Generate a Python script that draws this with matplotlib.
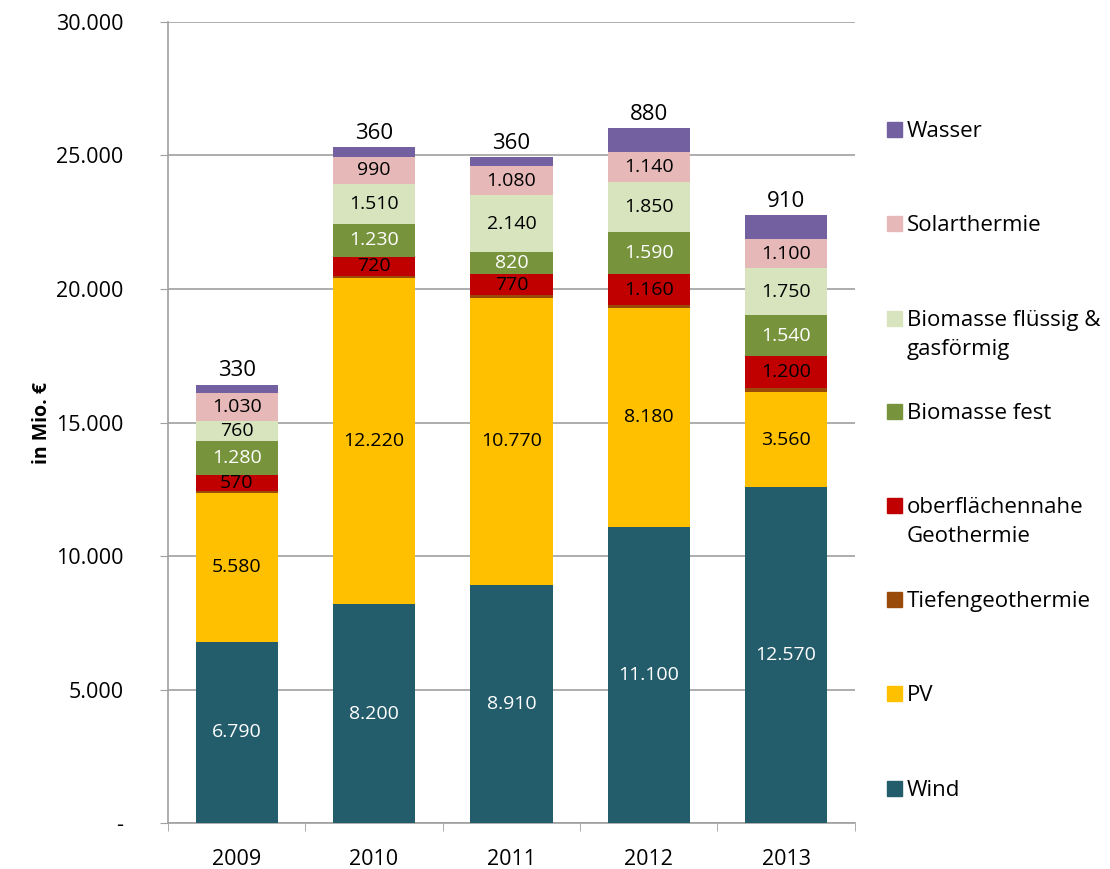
import numpy as np
import matplotlib.pyplot as plt
from matplotlib.patches import Rectangle

plt.rcParams['font.family'] = ['Open Sans', 'DejaVu Sans']

years = ['2009', '2010', '2011', '2012', '2013']
series = ['Wind', 'PV', 'Tiefengeothermie', 'oberflächennahe\nGeothermie',
          'Biomasse fest', 'Biomasse flüssig &\ngasförmig', 'Solarthermie', 'Wasser']
wind = [6790, 8200, 8910, 11100, 12570]
pv = [5580, 12220, 10770, 8180, 3560]
tief = [80, 70, 100, 120, 150]
geo = [570, 720, 770, 1160, 1200]
bio_fest = [1280, 1230, 820, 1590, 1540]
bio_fl = [760, 1510, 2140, 1850, 1750]
solar = [1030, 990, 1080, 1140, 1100]
wasser = [330, 360, 360, 880, 910]

values = [wind, pv, tief, geo, bio_fest, bio_fl, solar, wasser]
colors = ['#235C6A', '#FFC000', '#9A4A08', '#C00000', '#77933C', '#D7E4BD', '#E6B9B8', '#7360A0']
label_colors = ['white', 'black', None, 'black', 'white', 'black', 'black', None]

def fmt(v):
    return f'{v:,.0f}'.replace(',', '.')

fig = plt.figure(figsize=(11.1, 8.69), dpi=100)
ax = fig.add_axes([0.1514, 0.0529, 0.770 - 0.1514, 0.9747 - 0.0529])

x = np.arange(len(years))
bottom = np.zeros(len(years))
for vals, col, lc in zip(values, colors, label_colors):
    vals = np.array(vals, dtype=float)
    ax.bar(x, vals, 0.6, bottom=bottom, color=col, zorder=3)
    if lc is not None:
        for xi, b, v in zip(x, bottom, vals):
            ax.text(xi, b + v / 2, fmt(v), ha='center', va='center',
                    fontsize=14, color=lc, zorder=4)
    bottom += vals

# Wasser labels above the bars
for xi, b, v in zip(x, bottom, wasser):
    ax.text(xi, b + 120, fmt(v), ha='center', va='bottom', fontsize=16, zorder=4)

ax.set_xlim(-0.5, len(years) - 0.5)
ax.set_ylim(0, 30000)
ax.set_yticks(np.arange(0, 30001, 5000))
ax.set_yticklabels(['-'] + [fmt(v) for v in range(5000, 30001, 5000)], fontsize=15.5)
ax.set_xticks(x)
ax.set_xticklabels(years, fontsize=15.5)
ax.set_xticks(np.arange(-0.5, len(years)), minor=True)
ax.tick_params(axis='x', which='major', length=0, pad=19)
ax.tick_params(axis='x', which='minor', length=6, color='#A0A0A0')
ax.tick_params(axis='y', length=6, color='#A0A0A0', direction='out', pad=26)
ax.grid(axis='y', color='#A0A0A0', linewidth=1.2, zorder=0)
for s in ['top', 'right']:
    ax.spines[s].set_visible(False)
for s in ['left', 'bottom']:
    ax.spines[s].set_color('#A0A0A0')
    ax.spines[s].set_linewidth(1.2)
ax.set_ylabel('in Mio. €', fontsize=14, fontweight='bold', labelpad=3)

# legend on the right, top entry first
legend_y = [130, 224, 319, 412, 506, 600, 694, 789]
for name, col, yp in zip(series[::-1], colors[::-1], legend_y):
    fy = 1 - yp / 869
    fig.add_artist(Rectangle((887 / 1110, fy - 7 / 869), 15 / 1110, 15 / 869,
                             transform=fig.transFigure, color=col))
    fig.text(907 / 1110, fy + 9 / 869, name, ha='left', va='top',
             fontsize=16, linespacing=1.5)

fig.savefig('out.png', dpi=100)
